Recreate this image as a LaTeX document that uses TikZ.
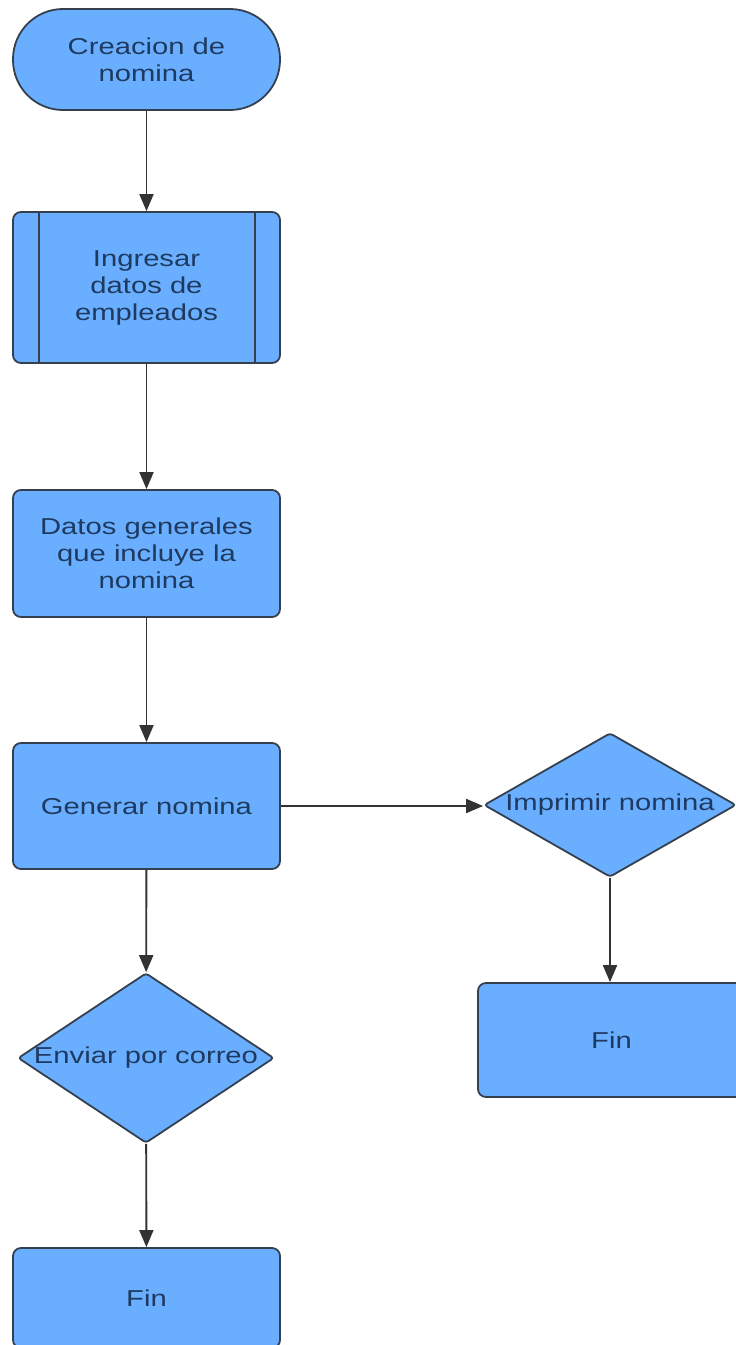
\documentclass[tikz,border=0pt]{standalone}
\usepackage{fontspec}
\setmainfont{Liberation Sans}[FakeStretch=1.27]
\usetikzlibrary{shapes.geometric,arrows.meta,calc}
\definecolor{boxfill}{HTML}{6AAEFF}
\definecolor{boxline}{HTML}{34404E}
\definecolor{txtcol}{HTML}{1E3A60}
\definecolor{arrcol}{HTML}{333333}
\tikzset{
  txtstyle/.style={text=txtcol, font=\fontsize{23}{27}\selectfont, align=center},
  base/.style={draw=boxline, line width=1.8pt, fill=boxfill, txtstyle, inner sep=0pt},
  procbox/.style={base, rectangle, rounded corners=8pt, minimum width=267pt},
  termbox/.style={base, rectangle, rounded corners=50pt, minimum width=267pt, minimum height=101pt},
  decbox/.style={base, diamond, rounded corners=3pt},
  conn/.style={draw=arrcol, line width=1.9pt, -{Triangle[length=17pt,width=14pt]}}
}
\begin{document}
\begin{tikzpicture}[x=1pt,y=-1pt]
\useasboundingbox[fill=white] (0,0) rectangle (736,1345);
\node[termbox] (start) at (146.5,59.5) {Creacion de\\nomina};
\node[procbox, minimum height=151pt] (ing) at (146.5,287.5) {Ingresar\\datos de\\empleados};
\draw[draw=boxline, line width=1.8pt] ($(ing.north west)+(27,0)$) -- ($(ing.south west)+(27,0)$);
\draw[draw=boxline, line width=1.8pt] ($(ing.north east)+(-26,0)$) -- ($(ing.south east)+(-26,0)$);
\node[procbox, minimum height=127pt] (dat) at (146.5,553.5) {Datos generales\\que incluye la\\nomina};
\node[procbox, minimum height=126pt] (gen) at (146.5,806) {Generar nomina};
\node[decbox, minimum width=252pt, minimum height=144pt,
      label={[txtstyle]center:Imprimir nomina}] (imp) at (610,805) {};
\node[procbox, minimum height=114pt] (finr) at (611.5,1040) {Fin};
\node[decbox, minimum width=256pt, minimum height=170pt,
      label={[txtstyle]center:Enviar por correo}] (env) at (146,1058) {};
\node[procbox, minimum height=100pt] (fin) at (146.5,1298) {Fin};
\draw[conn] (start) -- (ing);
\draw[conn] (ing) -- (dat);
\draw[conn] (dat) -- (gen);
\draw[conn] (gen.east) -- (gen.east -| imp.west);
\draw[conn] (gen) -- (env);
\draw[conn] (imp) -- (imp.south |- finr.north);
\draw[conn] (env) -- (fin);
\end{tikzpicture}
\end{document}
